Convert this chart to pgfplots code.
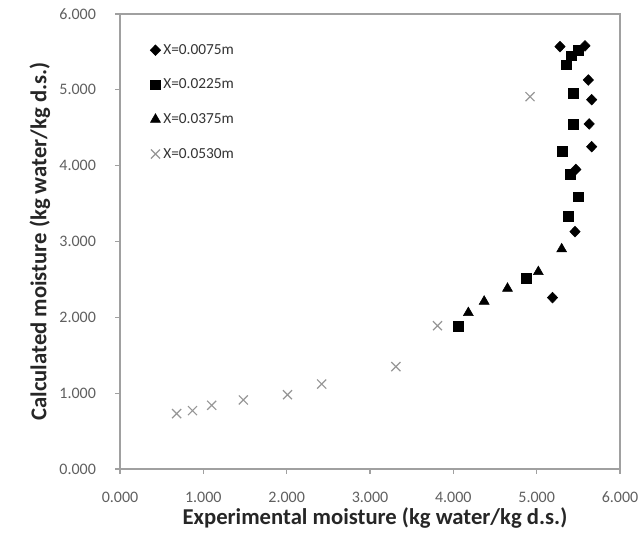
\documentclass[border=0pt]{standalone}
\usepackage{fontspec}
\setmainfont{Carlito}
\usepackage{pgfplots}
\pgfplotsset{compat=1.18}
\definecolor{axgray}{RGB}{160,160,160}
\definecolor{tickgray}{RGB}{95,95,95}
\definecolor{xgray}{RGB}{150,150,150}
\begin{document}
\begin{tikzpicture}
\begin{axis}[name=ax, scale only axis, width=375pt, height=341.25pt,
  xmin=0, xmax=6, ymin=0, ymax=6,
  xtick={0,1,2,3,4,5,6}, ytick={0,1,2,3,4,5,6},
  xtick pos=lower, ytick pos=left, tick align=outside, major tick length=3.5pt,
  axis line style={axgray, line width=0.8pt}, tick style={axgray, line width=0.8pt},
  /pgf/number format/assume math mode=true,
  /pgf/number format/fixed, /pgf/number format/fixed zerofill, /pgf/number format/precision=3,
  ticklabel style={font=\fontsize{12}{14}\selectfont, color=tickgray},
  xticklabel style={yshift=-10pt},
  yticklabel style={xshift=-11pt},
  xlabel={\bfseries Experimental moisture (kg water/kg d.s.)},
  ylabel={\bfseries Calculated moisture (kg water/kg d.s.)},
  label style={font=\fontsize{17}{20}\selectfont\bfseries, color=black!85},
  xlabel style={at={(axis description cs:0.51,-0.108)}, anchor=center},
  ylabel style={at={(axis description cs:-0.16,0.5)}, anchor=center, rotate=0},
  legend style={draw=none, fill=none, at={(axis description cs:0.06,0.94)}, anchor=north west,
    font=\fontsize{11.5}{13}\selectfont, text=black!80, row sep=13pt, inner sep=0pt},
  legend cell align=left,
  legend image code/.code={\draw[mark repeat=2,mark phase=2,#1] plot coordinates {(0pt,0pt) (4pt,0pt) (8pt,0pt)};},
]
\addplot[only marks, mark=diamond*, mark size=4pt, mark options={xscale=1.3, fill=black, draw=black}] coordinates {
(5.28,5.57) (5.58,5.58) (5.62,5.13) (5.66,4.87) (5.63,4.55) (5.66,4.25) (5.47,3.95) (5.46,3.13) (5.19,2.26)
};
\addlegendentry{X=0.0075m}
\addplot[only marks, mark=square*, mark size=3.7pt, mark options={fill=black, draw=black}] coordinates {
(5.50,5.52) (5.42,5.45) (5.35,5.33) (5.44,4.95) (5.44,4.55) (5.31,4.19) (5.40,3.89) (5.50,3.59) (5.38,3.33) (4.88,2.52) (4.06,1.88)
};
\addlegendentry{X=0.0225m}
\addplot[only marks, mark=triangle*, mark size=4.3pt, mark options={fill=black, draw=black}] coordinates {
(4.18,2.06) (4.37,2.21) (4.65,2.38) (5.02,2.60) (5.30,2.90)
};
\addlegendentry{X=0.0375m}
\addplot[only marks, mark=x, mark size=4.8pt, mark options={draw=xgray, line width=0.9pt}] coordinates {
(0.68,0.73) (0.87,0.77) (1.10,0.84) (1.48,0.91) (2.01,0.98) (2.42,1.12) (3.31,1.35) (3.81,1.89) (4.92,4.91)
};
\addlegendentry{X=0.0530m}
\end{axis}
\pgfresetboundingbox
\path ([shift={(-90pt,-61.5pt)}]ax.south west) rectangle ([shift={(14.25pt,10.5pt)}]ax.north east);
\end{tikzpicture}
\end{document}
